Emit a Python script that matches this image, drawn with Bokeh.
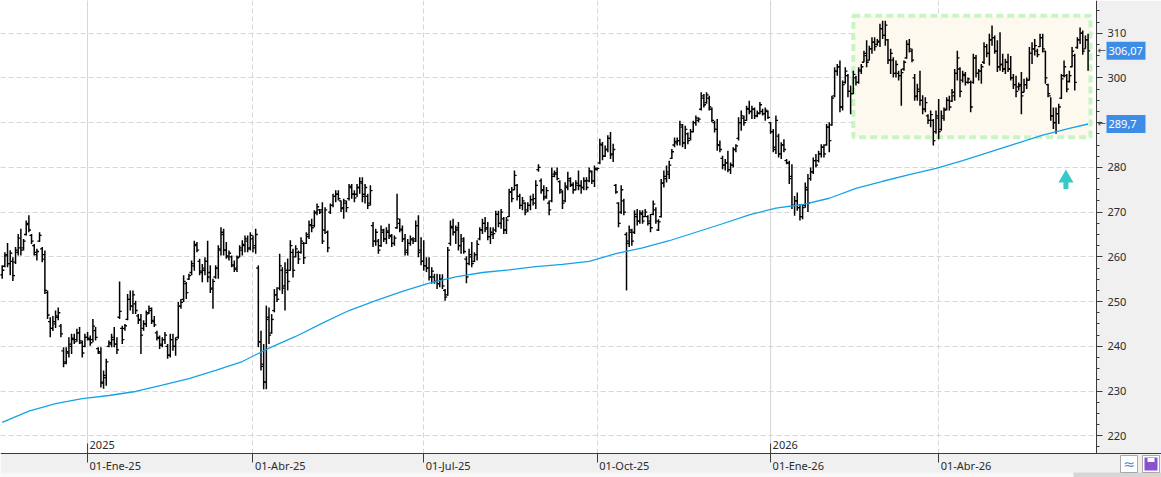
from bokeh.plotting import figure
from bokeh.models import Range1d, FixedTicker, Span, ColumnDataSource
from bokeh.core.properties import value
from bokeh.embed import file_html
from bokeh.resources import INLINE

# ---------------- data ----------------
highs = [
    258.1,261.0,263.1,261.5,259.9,262.2,265.1,266.3,264.0,268.1,
    269.3,265.1,262.9,261.8,265.5,262.2,261.4,252.5,246.5,246.8,
    248.0,248.7,245.0,239.8,239.8,242.0,242.8,242.8,243.9,244.3,
    241.3,242.8,243.2,242.4,246.1,244.3,239.8,239.8,234.6,237.2,
    241.3,242.8,244.3,242.0,254.5,244.6,245.0,251.7,252.5,252.5,
    250.2,247.2,247.2,245.8,248.0,249.1,248.7,246.8,243.5,242.4,
    242.0,243.2,240.5,242.8,242.8,242.0,249.9,250.6,255.9,254.4,
    256.2,259.2,263.6,263.3,259.6,258.4,259.9,263.6,258.1,255.1,
    258.1,262.6,
    266.6,266.3,263.3,261.4,260.3,259.2,260.3,262.6,263.7,264.8,
    264.8,265.5,264.8,266.3,258.1,243.5,240.5,249.1,248.7,247.2,
    252.8,253.2,260.7,257.7,258.8,259.6,263.7,261.8,262.6,261.4,
    264.4,263.3,265.5,268.1,268.5,270.4,271.9,270.7,272.2,271.1,
    265.9,271.9,274.1,274.9,274.9,272.6,273.0,272.6,276.3,276.3,
    274.9,276.3,277.8,277.8,276.3,274.1,276.0,267.8,266.3,264.0,
    267.0,266.3,266.6,267.4,265.1,264.8,274.1,268.5,267.0,265.1,
    264.0,264.8,264.4,268.1,269.3,264.4,263.7,259.9,259.9,257.7,
    256.2,256.2,
    256.1,256.1,252.8,262.2,268.1,268.5,267.0,267.8,265.1,264.4,
    260.1,261.8,263.3,261.0,263.7,266.6,268.5,268.9,267.8,266.6,
    266.6,270.3,270.3,270.7,268.9,268.9,275.2,275.6,279.3,276.3,
    274.1,273.4,272.2,272.2,273.7,274.1,277.1,280.7,277.5,276.0,
    275.6,272.6,280.0,279.3,280.0,277.1,274.9,276.7,279.0,277.8,
    276.7,277.1,279.3,277.1,277.8,277.8,280.0,279.3,280.4,280.0,
    286.4,285.7,284.9,287.2,287.9,285.3,276.3,272.2,276.0,273.0,
    265.5,267.0,266.3,270.4,270.7,270.4,270.4,270.7,269.3,269.6,
    272.6,271.1,
    268.4,277.4,279.3,280.4,281.5,284.1,286.7,286.7,290.4,289.7,
    289.3,287.8,288.6,290.4,291.6,291.2,296.8,296.4,296.8,296.0,
    293.4,290.4,290.8,286.0,282.6,281.9,283.7,281.1,284.5,285.2,
    291.2,292.7,291.6,293.8,294.9,293.8,293.4,292.7,294.6,293.1,
    293.4,292.7,290.1,288.6,291.6,287.5,285.6,286.3,281.9,281.5,
    280.7,273.6,274.4,271.8,271.8,276.6,278.5,280.0,282.2,283.0,
    283.7,285.2,285.2,289.7,290.1,296.0,302.4,303.1,303.9,299.4,
    302.4,300.9,298.3,301.6,300.5,302.4,303.1,306.1,308.4,307.2,
    309.1,309.1,308.7,
    312.1,312.8,312.8,308.7,306.5,304.6,303.9,301.6,302.0,303.9,
    308.4,308.7,306.5,300.9,298.7,301.6,296.1,295.7,291.9,292.7,
    290.8,292.7,295.3,292.7,293.4,295.7,296.0,297.5,302.0,306.1,
    302.4,301.6,301.3,300.1,299.4,305.4,305.1,302.0,303.1,308.0,
    307.6,309.9,311.7,309.5,308.4,310.2,305.4,304.3,305.4,304.9,
    300.9,300.5,299.0,301.3,299.8,300.1,306.9,308.0,308.7,306.5,
    309.9,309.9,306.1,298.7,295.7,293.4,293.4,294.2,300.9,303.9,
    300.9,301.6,306.9,305.4,309.1,311.3,310.6,309.5,309.9,
]
lows = [
    255.1,257.7,257.7,255.9,254.6,258.4,260.3,260.3,261.4,264.8,
    265.5,262.9,260.3,259.2,263.3,258.8,251.7,246.1,242.0,243.4,
    244.1,245.8,242.0,235.3,236.0,237.5,238.3,240.5,241.0,240.5,
    237.5,239.8,241.3,240.1,240.9,241.3,238.3,230.8,230.5,231.2,
    239.8,239.8,239.8,238.3,246.1,240.5,243.5,245.8,248.0,247.2,
    247.2,245.0,238.3,243.5,244.3,247.2,245.0,244.3,241.3,239.4,
    239.8,240.5,237.2,237.5,239.0,237.9,241.7,248.4,249.9,250.6,
    254.8,255.9,256.9,261.0,255.9,254.3,255.9,254.3,251.9,248.4,
    255.1,255.1,
    260.3,260.3,259.6,259.2,257.7,256.6,256.6,259.9,260.3,261.0,
    261.0,261.4,261.0,260.7,239.8,234.6,230.4,230.4,240.5,242.8,
    247.6,249.9,252.5,251.7,248.0,252.5,256.9,255.4,259.9,258.4,
    260.7,258.4,262.9,264.0,265.5,266.6,269.3,269.6,262.9,265.1,
    261.0,269.6,271.1,272.2,272.6,270.0,268.5,270.0,272.6,273.0,
    272.2,273.4,274.1,272.2,271.9,270.7,271.5,262.2,262.5,260.7,
    262.2,263.3,262.9,264.0,262.2,262.5,266.3,265.5,263.3,260.3,
    260.3,262.5,262.9,263.3,259.9,258.1,256.9,256.6,254.7,254.0,
    254.0,252.8,
    253.2,252.8,250.2,251.3,262.5,264.8,262.9,261.4,260.7,260.7,
    254.1,258.1,257.7,258.8,259.2,263.7,265.1,265.5,263.7,262.9,
    264.0,265.5,266.6,266.3,265.1,265.1,268.9,272.2,274.9,272.6,
    270.7,270.4,269.3,270.0,270.4,271.5,270.7,279.0,274.1,272.6,
    273.0,269.3,272.2,277.8,277.1,274.1,270.7,272.2,274.9,275.6,
    274.1,274.9,274.9,274.1,274.9,274.9,276.7,276.3,275.6,279.3,
    280.7,281.6,282.3,283.4,281.9,281.2,274.1,266.6,269.6,269.3,
    252.5,262.2,262.5,265.1,267.0,267.4,267.4,268.9,267.0,265.5,
    269.3,267.4,
    265.8,268.8,275.5,276.6,277.4,281.9,284.5,284.9,284.9,284.5,
    284.1,285.2,286.0,287.8,289.3,290.1,292.7,293.4,294.2,292.7,
    290.1,287.8,283.7,283.4,279.6,279.3,278.9,278.5,280.0,283.4,
    286.0,288.2,289.3,290.4,291.9,290.8,290.8,291.2,291.9,291.6,
    290.4,290.8,287.5,283.4,283.0,282.2,281.9,283.4,280.7,276.3,
    270.7,269.2,270.3,268.1,268.4,271.0,270.0,277.0,278.5,280.0,
    281.1,282.2,282.2,284.9,283.4,289.3,295.7,300.5,292.3,292.7,
    298.7,295.7,291.9,296.4,298.3,298.7,300.9,303.5,302.4,303.9,
    305.4,306.1,307.2,
    306.9,308.7,307.2,303.1,300.9,300.1,300.1,299.4,293.8,301.6,
    304.3,305.7,303.5,294.9,294.9,293.8,291.9,292.3,289.7,289.0,
    284.9,287.5,286.3,288.2,290.4,292.7,292.7,294.6,294.9,299.4,
    295.7,299.0,298.3,298.7,292.3,298.7,300.1,299.4,298.7,303.1,
    304.6,302.8,307.2,305.4,301.3,301.6,301.3,300.9,301.3,299.4,
    297.5,295.7,297.2,291.9,296.8,297.5,299.4,303.1,305.0,304.6,
    306.9,305.7,298.7,295.7,290.4,288.6,287.5,289.7,295.3,300.1,
    296.8,299.0,302.4,297.2,306.5,307.6,305.2,306.5,301.6,
]
opens = [
    256.0,257.9,260.5,258.5,259.0,258.8,261.0,262.0,262.0,265.0,
    267.5,264.8,262.5,260.5,263.5,261.8,260.5,252.0,245.5,244.0,
    245.0,246.5,244.5,239.0,236.5,238.5,240.0,241.5,241.5,243.0,
    240.8,240.0,242.0,241.5,241.5,243.5,239.5,238.5,232.0,233.0,
    240.0,240.5,241.5,240.5,246.5,244.0,244.0,246.0,250.5,249.0,
    249.5,246.8,246.0,244.0,245.0,247.5,248.0,245.5,243.0,241.8,
    240.5,241.5,240.0,238.0,241.5,240.0,242.0,249.0,250.5,254.0,
    255.0,256.5,258.0,262.8,259.0,256.5,257.0,259.0,256.5,253.0,
    255.5,257.5,
    261.5,265.0,261.5,260.0,260.0,258.0,257.5,260.0,261.5,262.5,
    263.5,262.0,264.0,262.5,257.5,241.0,236.0,232.0,246.5,243.0,
    248.0,251.5,253.0,257.0,253.5,256.5,257.0,261.0,260.0,261.0,
    261.0,263.0,263.0,264.5,267.0,267.0,270.0,270.5,270.5,266.0,
    265.5,270.0,271.5,273.5,274.0,272.5,271.0,272.0,273.0,275.5,
    274.0,274.0,275.5,276.5,274.0,273.5,272.0,267.0,263.5,263.5,
    262.5,265.5,264.0,265.5,264.5,263.0,266.5,267.5,266.0,264.0,
    261.5,263.0,263.8,264.0,267.0,261.5,259.0,258.0,257.5,255.5,
    255.5,254.5,
    254.0,255.0,252.5,251.5,263.0,266.5,265.5,266.5,262.5,263.5,
    259.5,258.5,260.0,259.0,260.5,264.0,266.0,267.5,266.5,264.5,
    265.0,266.0,269.5,267.5,268.5,266.0,269.0,274.5,275.0,276.0,
    273.5,271.5,272.0,270.5,271.5,272.8,272.0,279.5,277.0,275.0,
    273.5,272.0,272.5,278.5,278.5,276.8,274.5,272.5,275.5,277.0,
    276.0,275.0,276.0,276.0,275.5,277.0,277.0,279.0,277.0,279.5,
    281.0,285.0,282.5,284.0,286.5,283.0,276.0,272.0,270.0,272.5,
    265.0,263.0,265.5,265.5,269.0,268.0,269.5,269.0,269.0,268.0,
    269.5,270.5,
    266.0,269.0,276.5,277.5,278.5,282.0,285.0,285.5,286.0,289.0,
    285.5,287.5,286.5,288.0,290.0,290.5,293.0,295.5,294.5,295.5,
    293.0,290.0,288.5,285.0,282.0,280.5,281.0,279.5,280.5,284.0,
    286.5,290.0,291.0,290.5,293.0,292.5,293.0,291.5,292.0,292.5,
    292.0,292.5,290.0,288.0,284.0,287.0,283.0,285.0,281.5,281.0,
    278.0,271.5,272.5,271.0,269.0,271.5,275.0,277.5,279.0,281.5,
    281.5,283.0,284.5,285.0,289.0,289.5,296.0,301.5,302.5,293.5,
    299.0,300.5,297.0,296.5,300.0,299.0,301.5,303.5,305.0,304.0,
    306.5,308.0,307.5,
    308.0,311.0,309.5,308.5,304.0,304.0,301.0,301.0,300.5,302.0,
    304.5,307.5,306.0,300.0,296.0,297.0,295.0,293.0,291.5,290.5,
    290.5,288.0,291.0,288.5,291.0,293.0,295.0,294.8,296.0,301.0,
    302.0,299.5,300.5,299.0,299.0,299.0,304.5,301.0,301.5,303.5,
    307.0,305.5,308.5,309.0,306.0,302.5,303.0,302.0,303.5,302.0,
    300.0,298.5,298.0,298.5,296.8,298.5,299.5,305.5,306.5,306.0,
    307.0,309.0,306.0,298.5,296.0,291.5,290.0,292.0,295.5,300.5,
    300.5,299.2,302.5,305.0,306.8,308.5,310.0,306.5,308.5,
]
closes = [
    257.0,260.2,258.5,260.8,255.8,261.5,264.2,261.5,263.5,267.2,
    266.0,263.5,261.0,261.2,264.8,259.5,252.5,247.0,244.0,245.5,
    246.8,247.5,242.8,236.2,238.8,240.5,241.8,241.0,243.0,241.2,
    238.5,242.0,241.8,240.8,244.5,242.0,238.8,231.8,233.5,236.5,
    240.8,242.0,240.5,239.2,247.8,241.5,244.6,250.5,249.0,251.5,
    248.0,245.8,242.5,245.0,247.2,248.5,245.8,244.8,242.0,240.2,
    241.5,242.5,238.0,241.5,240.0,241.5,249.0,249.8,254.5,252.0,
    255.8,258.5,262.5,261.5,256.8,257.5,259.0,255.5,252.8,254.5,
    257.5,261.8,
    265.5,261.5,260.2,260.8,258.2,257.2,259.8,262.0,262.8,264.0,
    261.8,264.8,262.0,265.0,241.0,235.5,232.0,246.0,242.5,246.0,
    251.5,250.5,258.0,253.0,257.0,254.5,262.5,257.0,261.8,259.5,
    263.5,259.8,265.0,267.2,266.5,269.8,271.2,270.0,263.5,270.5,
    262.0,271.5,273.5,274.0,273.0,270.8,272.5,271.0,275.8,274.0,
    273.2,275.5,276.8,273.5,275.5,271.5,274.8,263.5,265.5,261.5,
    266.0,264.0,265.8,264.8,263.0,264.2,268.5,266.2,264.0,261.0,
    263.0,264.0,263.5,267.0,261.0,259.0,258.0,257.5,255.5,256.8,
    254.5,254.0,
    255.0,253.5,251.0,261.5,266.8,265.5,266.0,262.5,264.0,261.2,
    255.5,260.5,258.5,260.5,262.8,266.0,267.5,266.2,264.5,265.5,
    265.2,269.5,267.5,270.0,266.0,268.2,274.5,273.0,278.2,273.5,
    271.5,272.5,270.0,271.5,272.8,273.0,276.0,280.0,274.8,273.2,
    274.8,270.5,278.0,278.8,277.5,275.0,272.0,275.8,277.5,276.2,
    275.0,276.5,275.8,275.5,277.0,275.5,279.2,277.0,279.8,279.8,
    285.2,282.5,284.0,286.5,282.8,284.0,274.5,267.5,275.0,270.0,
    263.5,266.0,263.5,269.5,268.0,269.8,268.0,270.0,267.5,266.5,
    271.8,268.0,
    267.8,276.5,278.0,279.0,280.5,283.5,285.8,286.0,289.5,285.5,
    288.5,286.0,288.0,290.0,291.0,290.8,296.0,294.0,296.2,293.5,
    290.5,288.5,285.0,284.0,280.5,281.0,279.5,280.5,284.0,284.8,
    290.0,291.5,290.0,293.2,292.5,293.0,291.5,292.2,294.0,292.0,
    292.8,291.2,288.0,284.5,290.5,283.0,285.0,284.0,281.0,277.5,
    271.5,272.5,271.0,269.0,271.0,275.5,272.0,279.0,281.5,280.5,
    283.0,284.5,283.0,289.0,286.0,295.5,301.5,302.5,293.5,298.5,
    301.5,297.0,296.5,300.8,299.0,301.8,302.5,305.5,303.5,306.5,
    308.0,307.0,308.2,
    311.0,309.5,311.8,304.0,305.5,301.0,303.0,300.5,301.2,303.5,
    307.5,306.5,304.0,295.8,297.5,295.0,293.0,294.5,290.5,291.8,
    286.0,291.5,288.0,291.5,292.8,295.0,293.5,296.8,301.0,304.5,
    297.0,300.8,299.0,299.8,293.5,304.5,301.0,301.5,302.5,307.0,
    305.5,308.5,309.0,306.0,302.5,303.0,302.0,303.5,302.0,300.0,
    298.5,297.0,298.2,296.0,298.5,299.5,305.5,306.5,307.2,305.2,
    309.0,306.5,300.0,296.5,291.5,290.0,292.0,293.5,299.8,302.5,
    297.5,300.5,306.0,299.0,308.5,310.0,306.0,308.5,306.07,
]

# 200-session moving average, read at every 10th session
ma_idx = [0,10,20,30,40,50,60,70,80,90,100,110,120,130,140,150,160,170,180,190,
          200,210,220,230,240,250,260,270,280,290,300,310,320,330,340,350,360,370,
          380,390,400,407]
ma_vals = [223.0,225.5,227.2,228.3,229.0,229.9,231.3,232.8,234.6,236.6,
           239.6,242.2,245.2,248.0,250.2,252.3,254.1,255.5,256.5,257.1,
           257.8,258.3,259.0,260.7,262.0,263.6,265.5,267.4,269.4,270.9,
           271.7,273.1,275.3,276.9,278.4,279.8,281.5,283.4,285.3,287.2,
           288.7,289.7]

tick_idx = [32, 94, 158, 223, 288, 351]
tick_labels = ["01-Ene-25", "01-Abr-25", "01-Jul-25", "01-Oct-25", "01-Ene-26", "01-Abr-26"]
year_idx = [32, 288]
year_labels = ["2025", "2026"]
y_ticks = [220, 230, 240, 250, 260, 270, 280, 290, 300, 310]
y_minor = [217.5 + 2.5 * k for k in range(41)]

price_marks = [306.07, 289.7]
price_texts = ["306,07", "289,7"]

range_box = dict(left=319.0, right=407.9, bottom=286.75, top=313.9)
signal_idx = 398.7
signal_price = 277.6
signal_stem = 275.95

# ---------------- geometry ----------------
W, H = 1161, 477
X0 = -0.637
X1 = X0 + W / 2.668
Y1 = 317.31
Y0 = Y1 - H / 4.473


def xpx(px):
    return X0 + px * (X1 - X0) / W


def ypx(py):
    return Y1 - py * (Y1 - Y0) / H


PPX = W / (X1 - X0)
PPY = H / (Y1 - Y0)
X_AX = xpx(1096)
Y_AX = ypx(453)

FONT = "Noto Sans"
FS = "11px"
TXT = "#2b2b2b"
AX = "#3a3a3a"

N = min(len(highs), len(lows), len(opens), len(closes))
xs = list(range(N))

p = figure(width=W, height=H, x_range=Range1d(X0, X1), y_range=Range1d(Y0, Y1),
           y_axis_location="right", x_axis_location="below",
           toolbar_location=None, output_backend="svg",
           min_border=0, min_border_left=0, min_border_right=0,
           min_border_top=0, min_border_bottom=0,
           background_fill_color="white", border_fill_color="#f0f0f0",
           outline_line_color=None)

# ---------------- axes (drawn at fixed positions inside the canvas) ----------------
ya = p.yaxis[0]
ya.fixed_location = X_AX
ya.ticker = FixedTicker(ticks=y_ticks, minor_ticks=y_minor)
ya.major_tick_out = 6
ya.major_tick_in = 0
ya.minor_tick_out = 3
ya.minor_tick_in = 0
ya.axis_line_color = None
ya.major_tick_line_color = AX
ya.minor_tick_line_color = AX
ya.major_label_text_font = FONT
ya.major_label_text_font_size = FS
ya.major_label_text_color = TXT
ya.major_label_standoff = 5

xa = p.xaxis[0]
xa.fixed_location = Y_AX
xa.ticker = FixedTicker(ticks=tick_idx)
xa.major_label_overrides = {t: "" for t in tick_idx}
xa.major_tick_out = 9
xa.major_tick_in = 0
xa.minor_tick_out = 0
xa.minor_tick_in = 0
xa.axis_line_color = AX
xa.major_tick_line_color = AX

# grids
p.xgrid.grid_line_color = "#d6d6d6"
p.xgrid.grid_line_dash = "5 3"
p.ygrid.grid_line_color = "#d6d6d6"
p.ygrid.grid_line_dash = "5 3"
for yi in year_idx:
    p.add_layout(Span(location=yi, dimension="height", line_color="#d6d6d6",
                      line_width=1, level="underlay"))

# ---------------- range rectangle ----------------
p.quad(left=[range_box["left"]], right=[range_box["right"]],
       bottom=[range_box["bottom"]], top=[range_box["top"]],
       fill_color="#fdf9ee", line_color=None)
p.quad(left=[range_box["left"]], right=[range_box["right"]],
       bottom=[range_box["bottom"]], top=[range_box["top"]],
       fill_color=None, line_color="#c8f5c4", line_width=4, line_dash="7 4")

# ---------------- OHLC bars ----------------
src = ColumnDataSource(dict(
    x=xs, xl=[x - 0.8 for x in xs], xr=[x + 0.8 for x in xs],
    h=highs[:N], l=lows[:N], o=opens[:N], c=closes[:N]))
p.segment(x0="x", y0="l", x1="x", y1="h", source=src, line_color="black", line_width=1.5)
p.segment(x0="xl", y0="o", x1="x", y1="o", source=src, line_color="black", line_width=1.3)
p.segment(x0="x", y0="c", x1="xr", y1="c", source=src, line_color="black", line_width=1.3)

# moving average
p.line(ma_idx, ma_vals, line_color="#16a3e6", line_width=1.3)

# signal arrow
p.rect(x=[signal_idx], y=[signal_stem], width=5, height=7, width_units="screen",
       height_units="screen", fill_color="#35c9c9", line_color=None)
p.scatter(x=[signal_idx], y=[signal_price], marker="triangle", size=15,
          fill_color="#35c9c9", line_color=None)

# ---------------- side panels ----------------
p.quad(left=[X_AX], right=[X1], bottom=[Y_AX], top=[Y1], fill_color="#f0f0f0", line_color=None)
p.quad(left=[X0], right=[X1], bottom=[Y0], top=[Y_AX], fill_color="#f0f0f0", line_color=None)
p.quad(left=[X0], right=[X1], bottom=[Y0], top=[ypx(472)], fill_color="#f8f8f8", line_color=None)
p.quad(left=[xpx(1073)], right=[X1], bottom=[Y0], top=[ypx(472)], fill_color="#d6d6d6", line_color=None)
p.segment(x0=[X_AX], y0=[Y_AX], x1=[X_AX], y1=[Y1], line_color=AX, line_width=1)

# time-axis labels (left aligned next to their tick)
p.text(x=tick_idx, y=[Y_AX - 12 / PPY] * len(tick_idx), text=tick_labels, x_offset=2,
       text_font=value(FONT), text_font_size=value(FS), text_color=TXT,
       text_align="left", text_baseline="middle")
# year markers just above the time axis
p.segment(x0=year_idx, y0=[Y_AX] * len(year_idx), x1=year_idx,
          y1=[Y_AX + 10 / PPY] * len(year_idx), line_color=AX, line_width=1)
p.text(x=year_idx, y=[Y_AX + 9 / PPY] * len(year_idx), text=year_labels, x_offset=2,
       text_font=value(FONT), text_font_size=value(FS), text_color=TXT,
       text_align="left", text_baseline="middle")

# price markers on the price axis (drawn above the axis labels, as in the original)
n_pm = len(price_marks)
p.rect(x=[X_AX + 29.5 / PPX] * n_pm, y=price_marks, width=39, height=18,
       width_units="screen", height_units="screen", fill_color="#3d8de6", line_color=None,
       level="overlay")
p.text(x=[X_AX] * n_pm, y=price_marks, text=price_texts, x_offset=12,
       text_font=value(FONT), text_font_size=value(FS), text_color="white",
       text_align="left", text_baseline="middle", level="overlay")
p.text(x=[X_AX] * n_pm, y=price_marks, text=["\u2190"] * n_pm, x_offset=1,
       text_font=value("DejaVu Sans"), text_font_size=value("10px"), text_color="#444444",
       text_align="left", text_baseline="middle", level="overlay")

# small toolbar icons at the bottom right
icon_y = ypx(463.5)
p.rect(x=[xpx(1128.5), xpx(1150.5)], y=[icon_y, icon_y], width=17, height=17,
       width_units="screen", height_units="screen", fill_color="white", line_color="#a8a8a8")
p.text(x=[xpx(1128.5)], y=[icon_y], text=["\u2248"], text_font=value("DejaVu Sans"),
       text_font_size=value("14px"), text_color="#4f86d9", text_align="center",
       text_baseline="middle")
p.rect(x=[xpx(1150.5)], y=[icon_y], width=13, height=13, width_units="screen",
       height_units="screen", fill_color="#8b4fd1", line_color=None)
p.rect(x=[xpx(1150.5)], y=[ypx(459.5)], width=7, height=4, width_units="screen",
       height_units="screen", fill_color="white", line_color=None)

open("out.html", "w").write(file_html(p, INLINE))
